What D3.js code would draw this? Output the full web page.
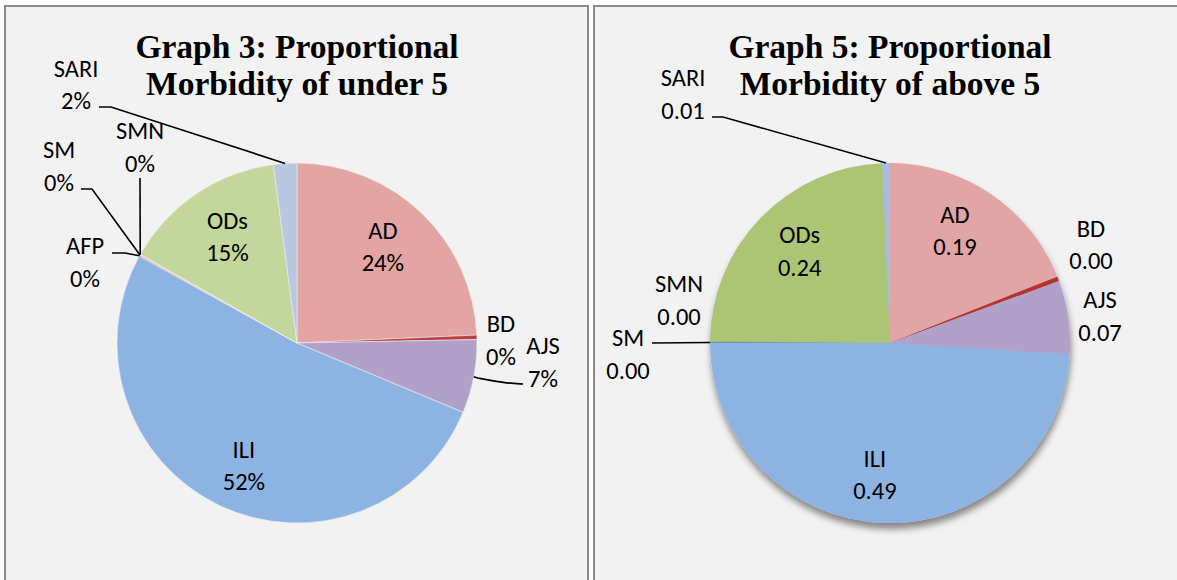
<!DOCTYPE html>
<html><head><meta charset="utf-8">
<script src="https://cdn.jsdelivr.net/npm/d3@7"></script>
<style>
html,body{margin:0;padding:0;background:#fff;}
svg{display:block;}
</style></head>
<body>
<svg id="chart" width="1177" height="580"></svg>
<script>
// ---- Data ----
const categoriesUnder5 = ["AD","BD","AJS","ILI","AFP","SM","SMN","ODs","SARI"];
const valuesUnder5 = [24.3, 0.4, 6.6, 51.7, 0.1, 0.05, 0.05, 14.7, 2.1];
const categoriesAbove5 = ["AD","BD","AJS","ILI","SM","SMN","ODs","SARI"];
const valuesAbove5 = [19.0, 0.4, 6.6, 49.0, 0.1, 0.1, 24.1, 0.7];
const titleUnder5 = ["Graph 3: Proportional", "Morbidity of under 5"];
const titleAbove5 = ["Graph 5: Proportional", "Morbidity of above 5"];

// ---- Styles ----
const colorsLeft = {AD:"#e2a5a4",BD:"#b8403e",AJS:"#b1a0c7",ILI:"#8db3e2",AFP:"#d9534f",SM:"#8db3e2",SMN:"#9bbb59",ODs:"#c3d69b",SARI:"#b9c7e1"};
const colorsRight = {AD:"#e2a5a5",BD:"#b5302e",AJS:"#b1a0c7",ILI:"#8db3e2",SM:"#6f93c6",SMN:"#9bbb59",ODs:"#acc574",SARI:"#a7bcdf"};

const svg = d3.select("#chart");
const labelFont = "Carlito, Calibri, Lato, sans-serif";
const FS = 24.5, LINE_GAP = 32.5;

// defs: shadow
const defs = svg.append("defs");
const f = defs.append("filter").attr("id","shadow").attr("x","-20%").attr("y","-20%").attr("width","140%").attr("height","150%");
f.append("feGaussianBlur").attr("in","SourceAlpha").attr("stdDeviation",3.5).attr("result","b");
f.append("feOffset").attr("in","b").attr("dx",1).attr("dy",6).attr("result","o");
f.append("feComponentTransfer").attr("in","o").attr("result","o2")
  .append("feFuncA").attr("type","linear").attr("slope",0.45);
const m = f.append("feMerge");
m.append("feMergeNode").attr("in","o2");
m.append("feMergeNode").attr("in","SourceGraphic");

// panels
const panels = [
  {x:5, y:6, w:583, h:590},
  {x:594, y:6, w:600, h:590}
];
panels.forEach(p=>{
  svg.append("rect").attr("x",p.x).attr("y",p.y).attr("width",p.w).attr("height",p.h)
    .attr("fill","#f2f2f2").attr("stroke","#8a8a8a").attr("stroke-width",2);
});

function drawPie(cfg){
  const g = svg.append("g").attr("transform",`translate(${cfg.cx},${cfg.cy})`);
  const data = cfg.cats.map((c,i)=>({cat:c, value:cfg.vals[i]}));
  const total = d3.sum(cfg.vals);
  const pie = d3.pie().value(d=>d.value).sort(null);
  const arcs = pie(data);
  const R = cfg.r;
  const arc = d3.arc().innerRadius(0).outerRadius(R);
  const pg = g.append("g");
  if(cfg.shadow) pg.attr("filter","url(#shadow)");
  pg.selectAll("path").data(arcs).join("path")
    .attr("d",arc)
    .attr("fill",d=>cfg.colors[d.data.cat])
    .attr("stroke",cfg.stroke||"none")
    .attr("stroke-width",cfg.stroke?0.6:0);

  const labelArc = d3.arc().innerRadius(R*cfg.inR).outerRadius(R*cfg.inR);
  const fmt = cfg.fmt;
  arcs.forEach(a=>{
    const cat = a.data.cat;
    const txt = fmt(a.data.value/total);
    const out = cfg.outside[cat];
    let x,y;
    if(out){ x = out.dx; y = out.dy; }
    else { [x,y] = labelArc.centroid(a); if(cfg.inNudge && cfg.inNudge[cat]){x+=cfg.inNudge[cat][0]; y+=cfg.inNudge[cat][1];} }
    const t = g.append("text")
      .attr("text-anchor","middle").attr("font-family",labelFont)
      .attr("font-size",FS).attr("fill","#000");
    const b1 = y - LINE_GAP/2 + FS*0.36;
    t.append("tspan").attr("x",x).attr("y",b1).text(cat);
    t.append("tspan").attr("x",x).attr("y",b1+LINE_GAP).text(txt);
    if(out && out.line){
      const ang = (a.startAngle+a.endAngle)/2;
      const px = Math.sin(ang)*R, py = -Math.cos(ang)*R;
      const pts = out.line.map(p=>[p[0],p[1]]).concat([[px,py]]);
      g.append("path").attr("d",d3.line().curve(out.curve?d3.curveBasis:d3.curveLinear)(pts))
        .attr("fill","none").attr("stroke","#000").attr("stroke-width",1.6);
    }
  });

  const tg = svg.append("text").attr("text-anchor","middle")
    .attr("font-family","Liberation Serif, 'DejaVu Serif', serif")
    .attr("font-weight","bold").attr("font-size",cfg.tfs).attr("fill","#000");
  cfg.title.forEach((s,i)=>{
    tg.append("tspan").attr("x",cfg.cx).attr("y",cfg.ty + i*37.5).text(s);
  });
}

drawPie({
  cx:297, cy:343, r:180, cats:categoriesUnder5, vals:valuesUnder5, colors:colorsLeft,
  fmt:d3.format(".0%"), inR:0.73, stroke:"#eeeeee", tfs:33.5, ty:57.5, title:titleUnder5,
  inNudge:{AD:[-5,-2], ODs:[4,2], ILI:[4,4]},
  outside:{
    BD:{dx:204, dy:-3.5},
    AJS:{dx:246, dy:18.5, line:[[226,41],[208,40],[180,35]], curve:true},
    AFP:{dx:-212, dy:-81.5, line:[[-185,-90],[-172,-90]]},
    SM:{dx:-238, dy:-177.5, line:[[-216,-154],[-205,-154]]},
    SMN:{dx:-157, dy:-196.5, line:[[-157,-165]]},
    SARI:{dx:-221, dy:-259, line:[[-198,-236],[-186,-236]]}
  }
});
drawPie({
  cx:890, cy:343, r:180, cats:categoriesAbove5, vals:valuesAbove5, colors:colorsRight,
  fmt:d3.format(".2f"), inR:0.73, shadow:true, tfs:33.5, ty:57.5, title:titleAbove5,
  inNudge:{AD:[-9,-4], ODs:[4,-1], ILI:[-11,0]},
  outside:{
    BD:{dx:201, dy:-99},
    AJS:{dx:210, dy:-27.5},
    SM:{dx:-262, dy:10.5, line:[[-238,0]]},
    SMN:{dx:-211, dy:-43.5},
    SARI:{dx:-207, dy:-249.5, line:[[-178,-226],[-167,-226]]}
  }
});
</script>
</body></html>
